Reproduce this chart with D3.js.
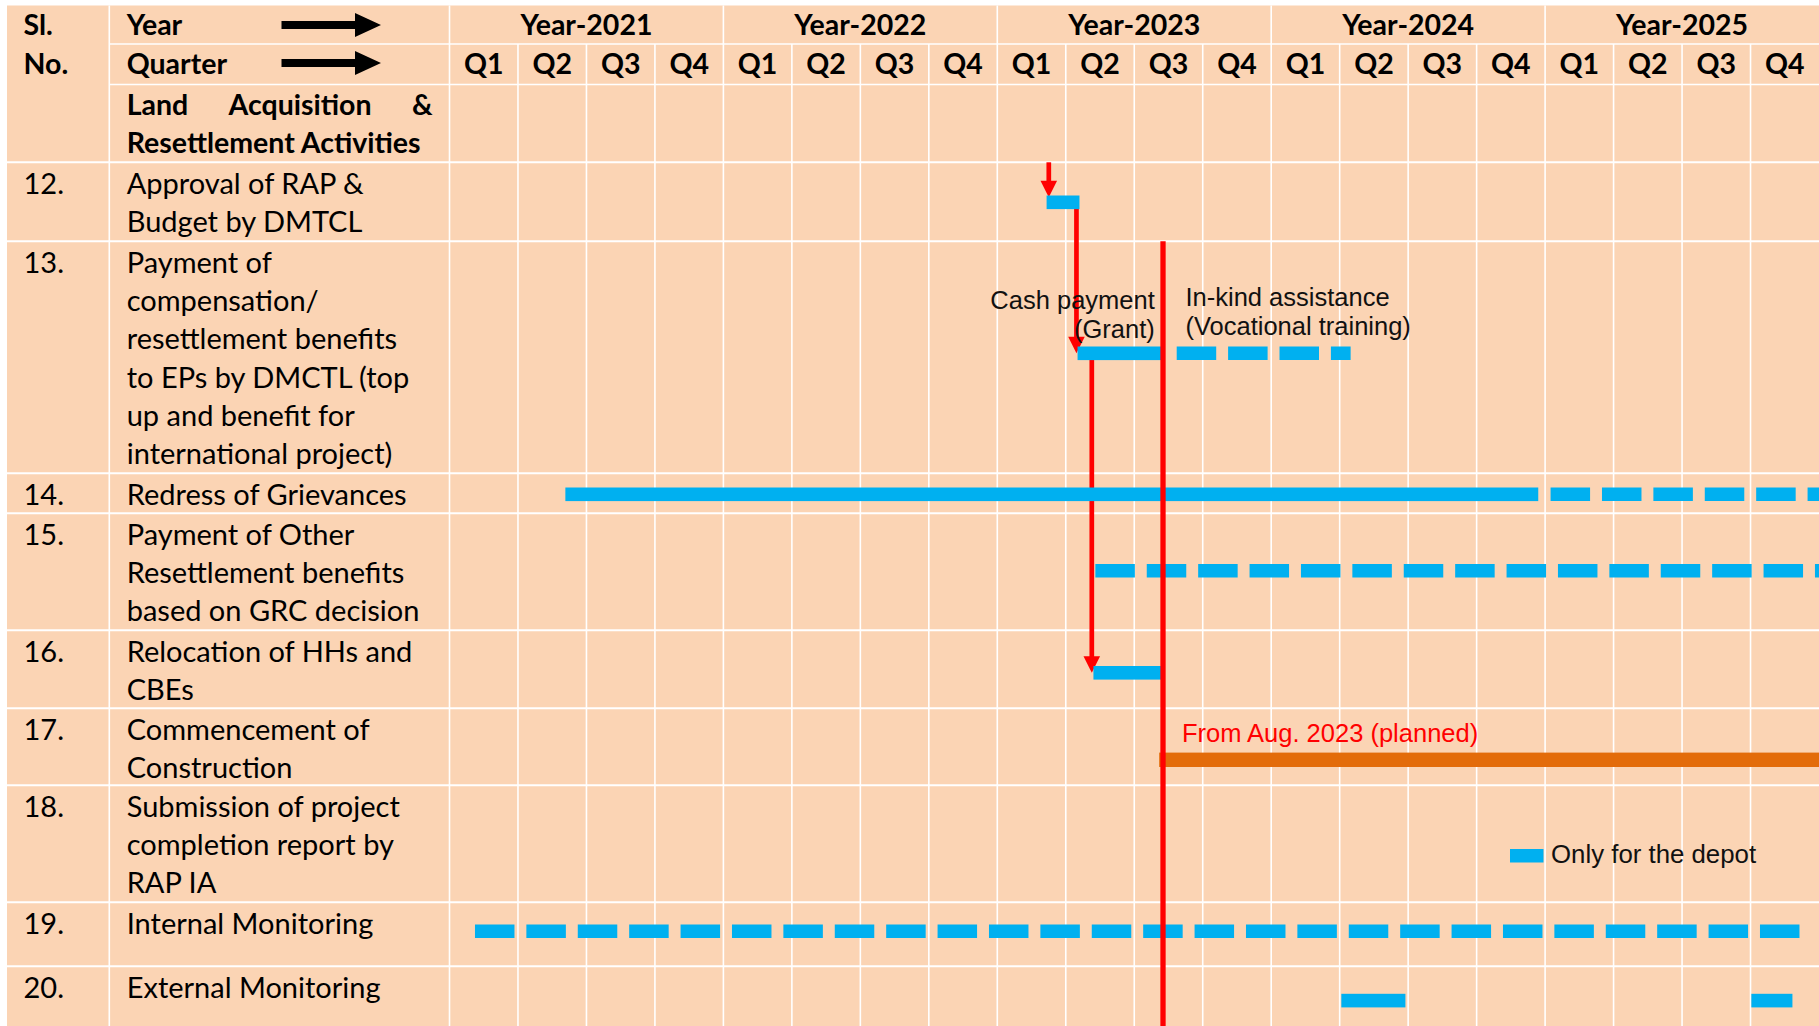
<!DOCTYPE html>
<html><head><meta charset="utf-8">
<script src="https://cdn.jsdelivr.net/npm/d3@7"></script>
<style>html,body{margin:0;padding:0;background:#fff}svg{display:block}</style>
</head><body>
<svg id="chart" width="1819" height="1026"></svg>
<script>
// ================= DATA =================
const years = ["Year-2021", "Year-2022", "Year-2023", "Year-2024", "Year-2025"];
const yearStarts = [2021, 2022, 2023, 2024, 2025];
const quarters = ["Q1", "Q2", "Q3", "Q4"];
const headerSl = ["Sl.", "No."];
const headerRowLabels = ["Year", "Quarter"];
const sectionTitle = [["Land", "Acquisition", "&"], ["Resettlement Activities"]];
const slNos = ["12.", "13.", "14.", "15.", "16.", "17.", "18.", "19.", "20."];
const activities = [
  ["Approval of RAP &", "Budget by DMTCL"],
  ["Payment of", "compensation/", "resettlement benefits", "to EPs by DMCTL (top", "up and benefit for", "international project)"],
  ["Redress of Grievances"],
  ["Payment of Other", "Resettlement benefits", "based on GRC decision"],
  ["Relocation of HHs and", "CBEs"],
  ["Commencement of", "Construction"],
  ["Submission of project", "completion report by", "RAP IA"],
  ["Internal Monitoring"],
  ["External Monitoring"]
];
// time values in decimal years
const solidBars = [
  {row: 0, start: 2023.180, end: 2023.300},
  {row: 1, start: 2023.293, end: 2023.606},
  {row: 2, start: 2021.423, end: 2024.975},
  {row: 4, start: 2023.351, end: 2023.603},
  {row: 8, start: 2024.256, end: 2024.490},
  {row: 8, start: 2025.753, end: 2025.903}
];
const dashedBars = [
  {row: 1, start: 2023.655, end: 2024.290},
  {row: 2, start: 2025.020, end: 2026.000},
  {row: 3, start: 2023.358, end: 2026.000},
  {row: 7, start: 2021.093, end: 2025.945}
];
const constructionBars = [
  {row: 5, start: 2023.591, end: 2026.000}
];
const arrowLinks = [
  {at: 2023.188, fromRow: 0, toRow: 0, fromTop: true},
  {at: 2023.289, fromRow: 0, toRow: 1, fromTop: false},
  {at: 2023.345, fromRow: 1, toRow: 4, fromTop: false}
];
const cutoffDate = 2023.605;
const annotations = [
  {row: 1, at: 2023.575, lines: ["Cash payment", "(Grant)"], anchor: "end", color: "#111"},
  {row: 1, at: 2023.687, lines: ["In-kind assistance", "(Vocational training)"], anchor: "start", color: "#111"},
  {row: 5, at: 2023.674, lines: ["From Aug. 2023 (planned)"], anchor: "start", color: "#ff0000"}
];
const legendLabel = "Only for the depot";

// ================= LAYOUT =================
const W = 1819, H = 1026;
const tableLeft = 7, tableTop = 5.5, slRight = 109.3, labelRight = 449.5;
const headerLines = [44, 84.5, 162.3];
const rowHeights = [79, 232, 40, 117, 78, 77, 117, 64, 90];
const barOffset = [40, 112, 21, 57.5, 42.5, 51.5, 0, 29, 34.3];
const annotOffset = [[67.5, 96.2], [64.8, 93.5]];
const lineH = 38.3;
const BLUE = "#00B0F0", RED = "#FF0000", ORANGE = "#E36C0A", PEACH = "#FBD4B4";
const bodyFont = "Lato, 'Open Sans', sans-serif";
const annFont = "'Liberation Sans', Arial, sans-serif";

const rowTops = [];
{ let acc = headerLines[2]; rowHeights.forEach(h => { rowTops.push(acc); acc += h; }); }

const x = d3.scaleLinear().domain([2021, 2026]).range([labelRight, W]);
const rowY = d3.scaleOrdinal().domain(d3.range(slNos.length)).range(rowTops);
const barY = r => rowY(r) + barOffset[r];

const svg = d3.select("#chart");
svg.append("rect").attr("x", 0).attr("y", 0).attr("width", W).attr("height", H).attr("fill", "#fff");
svg.append("rect").attr("x", tableLeft).attr("y", tableTop)
  .attr("width", W - tableLeft).attr("height", H - tableTop).attr("fill", PEACH);

// ---- grid ----
const grid = svg.append("g").attr("stroke", "#fff").attr("stroke-width", 1.6);
[slRight, labelRight].forEach(v => grid.append("line").attr("x1", v).attr("x2", v).attr("y1", tableTop).attr("y2", H));
const qTicks = d3.range(2021, 2026, 0.25);
qTicks.forEach(t => {
  if (t === 2021) return;
  const isYear = Number.isInteger(t);
  grid.append("line").attr("x1", x(t)).attr("x2", x(t))
    .attr("y1", isYear ? tableTop : headerLines[0]).attr("y2", H);
});
[headerLines[0], headerLines[1]].forEach(h => grid.append("line")
  .attr("x1", slRight).attr("x2", W).attr("y1", h).attr("y2", h));
[headerLines[2]].concat(rowTops.map((t, i) => t + rowHeights[i])).forEach(h => grid.append("line")
  .attr("x1", tableLeft).attr("x2", W).attr("y1", h).attr("y2", h).attr("stroke-width", 2));

// ---- header text ----
const hdr = svg.append("g").attr("font-family", bodyFont).attr("font-weight", 700)
  .attr("font-size", 28.5).attr("fill", "#000");
hdr.selectAll(".sl").data(headerSl).join("text").attr("x", 23.5)
  .attr("y", (d, i) => [35, 74][i]).text(d => d);
hdr.selectAll(".rl").data(headerRowLabels).join("text").attr("x", 126.7)
  .attr("y", (d, i) => [35, 74][i]).text(d => d);
// header arrows
[25, 63].forEach(cy => {
  svg.append("path").attr("fill", "#000")
    .attr("d", `M281.5,${cy - 4}H355V${cy - 12}L381,${cy}L355,${cy + 12}V${cy + 4}H281.5Z`);
});
hdr.append("text").attr("x", 126.7).attr("y", 115).text(sectionTitle[0][0]);
hdr.append("text").attr("x", 300).attr("y", 115).attr("text-anchor", "middle").text(sectionTitle[0][1]);
hdr.append("text").attr("x", 432.5).attr("y", 115).attr("text-anchor", "end").text(sectionTitle[0][2]);
hdr.append("text").attr("x", 126.7).attr("y", 152.7).text(sectionTitle[1][0]);
hdr.selectAll(".yr").data(years).join("text")
  .attr("x", (d, i) => x(yearStarts[i] + 0.5)).attr("y", 35).attr("text-anchor", "middle").text(d => d);
const qData = [];
yearStarts.forEach(y => quarters.forEach((q, qi) => qData.push({t: y + (qi + 0.5) / 4, q})));
hdr.selectAll(".q").data(qData).join("text")
  .attr("x", d => x(d.t)).attr("y", 74).attr("text-anchor", "middle").text(d => d.q);

// ---- body text ----
const body = svg.append("g").attr("font-family", bodyFont).attr("font-size", 29).attr("fill", "#000");
body.selectAll(".no").data(slNos).join("text").attr("x", 23.5)
  .attr("y", (d, i) => rowY(i) + 31.5).text(d => d);
activities.forEach((lines, r) => {
  body.selectAll(null).data(lines).join("text").attr("x", 126.7)
    .attr("y", (d, i) => rowY(r) + 31.5 + i * lineH).text(d => d);
});

// ---- arrows (under bars) ----
const arr = svg.append("g");
arrowLinks.forEach(a => {
  const y0 = a.fromTop ? rowY(a.fromRow) : barY(a.fromRow);
  const y1 = barY(a.toRow) - (a.fromTop ? 5 : 0);
  const cx = x(a.at);
  arr.append("line").attr("x1", cx).attr("x2", cx).attr("y1", y0).attr("y2", y1 - 10)
    .attr("stroke", RED).attr("stroke-width", 4.7);
  arr.append("path").attr("fill", RED)
    .attr("d", `M${cx - 8.3},${y1 - 16.5}L${cx + 8.3},${y1 - 16.5}L${cx},${y1}Z`);
});

// ---- bars ----
const BH = 13.6;
svg.append("g").selectAll("rect").data(solidBars).join("rect")
  .attr("x", d => x(d.start)).attr("width", d => x(d.end) - x(d.start))
  .attr("y", d => barY(d.row) - BH / 2).attr("height", BH).attr("fill", BLUE);
svg.append("g").selectAll("line").data(dashedBars).join("line")
  .attr("x1", d => x(d.start)).attr("x2", d => x(d.end))
  .attr("y1", d => barY(d.row)).attr("y2", d => barY(d.row))
  .attr("stroke", BLUE).attr("stroke-width", BH).attr("stroke-dasharray", "39.5 11.9");
svg.append("g").selectAll("rect").data(constructionBars).join("rect")
  .attr("x", d => x(d.start)).attr("width", d => x(d.end) - x(d.start))
  .attr("y", d => barY(d.row) - 7.2).attr("height", 14.4).attr("fill", ORANGE);

// ---- annotations ----
const ann = svg.append("g").attr("font-family", annFont).attr("font-size", 25.5);
annotations.forEach((a, k) => {
  const offs = a.row === 1 ? annotOffset[k] : [33.7];
  ann.selectAll(null).data(a.lines).join("text")
    .attr("x", x(a.at)).attr("y", (d, i) => rowY(a.row) + offs[i])
    .attr("text-anchor", a.anchor).attr("fill", a.color).text(d => d);
});

// ---- legend ----
svg.append("rect").attr("x", 1510).attr("y", 849).attr("width", 33.5).attr("height", 13.5).attr("fill", BLUE);
svg.append("text").attr("x", 1551).attr("y", 862.5).attr("font-family", annFont)
  .attr("font-size", 25.8).attr("fill", "#111").text(legendLabel);

// ---- cutoff line (on top) ----
svg.append("line").attr("x1", x(cutoffDate)).attr("x2", x(cutoffDate))
  .attr("y1", rowY(1)).attr("y2", H).attr("stroke", RED).attr("stroke-width", 5.3);
</script>
</body></html>
